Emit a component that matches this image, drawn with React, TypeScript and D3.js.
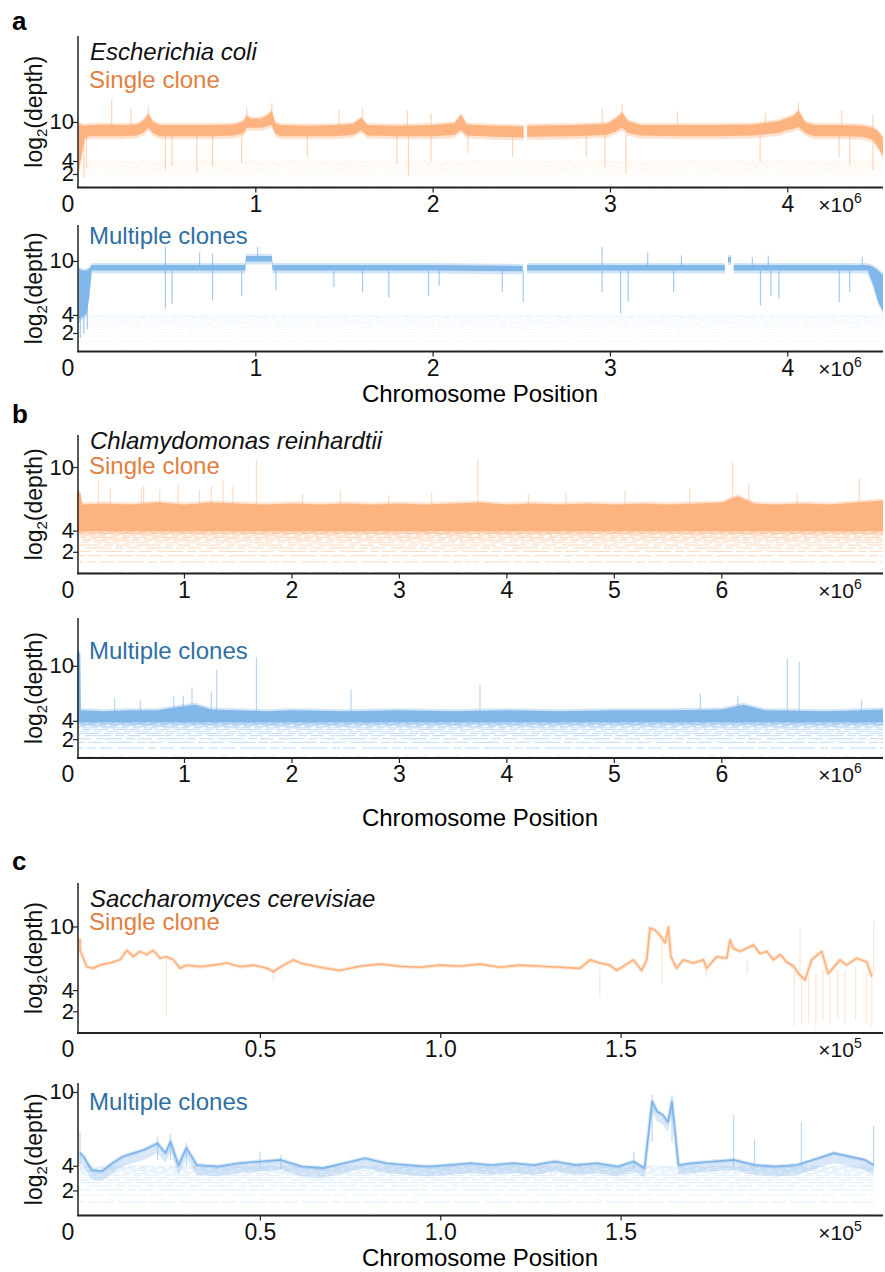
import React from "react";
import * as d3 from "d3";

const FONT = "'Liberation Sans', Arial, Helvetica, sans-serif";
const ORANGE = "#fdb07a";
const ORANGE_TEXT = "#e1803f";
const BLUE = "#7db4e8";
const BLUE_TEXT = "#2f6fa3";
const AXIS_LEFT = 78;
const AXIS_RIGHT = 883;

// tick labels
const ecoliTicks = [0, 1, 2, 3, 4];
const chlamyTicks = [0, 1, 2, 3, 4, 5, 6];
const yeastTicks = [0, 0.5, 1.0, 1.5];
const yTicks = [2, 4, 10];

// discrete low-depth levels (read depth), drawn at log2(depth)
const lowDepths = [1, 2, 3, 4, 5, 6, 7, 8, 9, 10, 11, 12, 13, 14, 15];

// ---- E. coli, single clone: band [pos ×10^6, low, high] in log2(depth)
const ecoliSingleBand = [
  [0.0, 2.5, 9.8], [0.015, 4.5, 9.6], [0.035, 7.6, 9.5], [0.06, 7.9, 9.6],
  [0.15, 7.9, 9.7], [0.25, 7.9, 9.6], [0.33, 8.0, 9.7], [0.37, 8.5, 10.4],
  [0.394, 9.2, 11.3], [0.42, 8.4, 10.1], [0.46, 7.9, 9.6], [0.6, 7.9, 9.6],
  [0.75, 7.9, 9.6], [0.88, 8.0, 9.7], [0.93, 8.4, 10.2], [0.95, 9.2, 11.0],
  [0.97, 9.2, 10.6], [1.03, 9.2, 10.6], [1.07, 9.5, 11.2], [1.09, 9.6, 11.8],
  [1.11, 8.3, 9.9], [1.14, 7.9, 9.6], [1.3, 7.9, 9.5], [1.45, 7.9, 9.6],
  [1.55, 8.1, 9.8], [1.593, 8.8, 10.7], [1.63, 8.0, 9.6], [1.8, 7.9, 9.5],
  [2.0, 7.9, 9.6], [2.12, 8.1, 9.9], [2.157, 8.9, 11.2], [2.19, 8.0, 9.7],
  [2.35, 7.8, 9.5], [2.51, 7.7, 9.4], [2.52, NaN, NaN], [2.53, 7.8, 9.5],
  [2.8, 7.9, 9.6], [2.98, 8.1, 9.8], [3.03, 8.6, 10.6], [3.066, 9.2, 11.5],
  [3.1, 8.4, 10.2], [3.17, 8.0, 9.6], [3.4, 7.9, 9.6], [3.6, 7.9, 9.6],
  [3.8, 8.0, 9.7], [3.95, 8.4, 10.2], [3.99, 8.8, 10.6], [4.03, 9.0, 11.0],
  [4.06, 9.3, 11.8], [4.1, 8.4, 10.0], [4.15, 7.9, 9.6], [4.3, 7.9, 9.6],
  [4.42, 7.8, 9.5], [4.48, 7.4, 9.2], [4.51, 6.2, 8.6], [4.537, 4.8, 7.6],
];
// thin vertical excursions [pos, low, high]
const ecoliSingleSpikes = [
  [0.49, 2.7, 8.2], [0.528, 3.2, 8.2], [0.667, 2.4, 8.2], [0.756, 3.2, 8.2],
  [0.92, 3.7, 8.2], [1.291, 4.7, 8.2], [1.795, 3.7, 8.2], [1.861, 1.7, 8.2],
  [1.988, 4.0, 8.2], [2.196, 5.3, 8.2], [2.448, 4.7, 8.2], [2.864, 4.7, 8.2],
  [2.968, 3.2, 8.2], [3.087, 2.2, 8.2], [3.844, 4.0, 8.2], [4.289, 4.7, 8.2],
  [4.349, 3.5, 8.2], [4.48, 2.7, 8.2], [0.03, 1.5, 8.0], [0.045, 3.0, 8.0],
  [0.187, 9.4, 13.6], [0.296, 9.4, 12.2], [0.394, 10.5, 12.4], [0.949, 10.0, 12.4],
  [1.09, 11.0, 13.0], [1.469, 9.4, 11.9], [1.602, 10.0, 12.2], [1.855, 9.4, 11.9],
  [1.988, 9.4, 11.4], [2.953, 9.4, 12.2], [3.066, 11.0, 12.8], [3.378, 9.4, 11.7],
  [3.874, 9.4, 11.4], [4.06, 11.0, 13.2], [4.304, 9.4, 11.9], [4.48, 9.2, 11.2],
];

// ---- E. coli, multiple clones
const ecoliMultiBand = [
  [0.0, 3.5, 9.3], [0.02, 3.8, 9.0], [0.045, 4.2, 9.0], [0.06, 6.0, 9.2],
  [0.075, 9.0, 9.6], [0.3, 9.0, 9.6], [0.6, 9.0, 9.6], [0.94, 9.0, 9.6],
  [0.945, 10.0, 10.6], [1.09, 10.0, 10.6], [1.095, 9.0, 9.6], [1.5, 9.0, 9.6],
  [2.0, 9.0, 9.6], [2.505, 8.9, 9.5], [2.515, NaN, NaN], [2.53, 9.0, 9.6],
  [3.0, 9.0, 9.6], [3.645, 9.0, 9.6], [3.655, NaN, NaN], [3.663, 9.9, 10.5],
  [3.68, 9.9, 10.5], [3.685, NaN, NaN], [3.695, 9.0, 9.6], [4.0, 9.0, 9.6],
  [4.45, 9.0, 9.6], [4.48, 7.5, 9.4], [4.51, 5.5, 9.0], [4.537, 4.5, 8.5],
];
const ecoliMultiSpikes = [
  [0.49, 4.74, 9.0], [0.528, 5.3, 9.0], [0.756, 5.67, 9.0], [0.92, 6.2, 9.0],
  [1.113, 6.8, 9.0], [1.44, 7.15, 9.0], [1.602, 6.6, 9.0], [1.75, 6.0, 9.0],
  [1.974, 6.2, 9.0], [2.034, 7.3, 9.0], [2.39, 6.6, 9.0], [2.508, 5.5, 9.0],
  [2.953, 6.6, 9.0], [3.057, 4.2, 9.0], [3.1, 5.5, 9.0], [3.356, 6.6, 9.0],
  [3.846, 5.1, 9.0], [3.905, 6.2, 9.0], [3.95, 5.85, 9.0], [4.29, 5.5, 9.0],
  [4.349, 6.6, 9.0], [0.01, 1.5, 8.0], [0.03, 2.0, 8.0], [0.05, 2.5, 8.0],
  [0.49, 9.6, 11.6], [0.683, 9.6, 11.0], [0.756, 9.6, 10.85], [1.01, 10.6, 11.6],
  [2.953, 9.6, 11.6], [3.21, 9.6, 11.0], [3.4, 9.6, 10.67], [3.8, 9.6, 10.48],
  [3.89, 9.6, 10.67], [4.42, 9.6, 10.48],
];

// ---- Chlamydomonas, single clone
const chlamySingleBand = [
  [0.0, 4.0, 7.8], [0.03, 4.0, 7.6], [0.05, 4.0, 6.5], [0.25, 4.0, 6.6],
  [0.5, 4.0, 6.5], [0.75, 4.0, 6.7], [1.0, 4.0, 6.5], [1.25, 4.0, 6.7],
  [1.5, 4.0, 6.6], [1.75, 4.0, 6.5], [2.0, 4.0, 6.6], [2.25, 4.0, 6.5],
  [2.5, 4.0, 6.6], [2.75, 4.0, 6.5], [3.0, 4.0, 6.6], [3.25, 4.0, 6.5],
  [3.5, 4.0, 6.6], [3.75, 4.0, 6.7], [4.0, 4.0, 6.5], [4.25, 4.0, 6.6],
  [4.5, 4.0, 6.5], [4.75, 4.0, 6.6], [5.0, 4.0, 6.5], [5.25, 4.0, 6.6],
  [5.5, 4.0, 6.5], [5.75, 4.0, 6.6], [6.0, 4.0, 6.7], [6.15, 4.0, 7.3],
  [6.3, 4.0, 6.6], [6.5, 4.0, 6.5], [6.75, 4.0, 6.6], [7.0, 4.0, 6.5],
  [7.25, 4.0, 6.7], [7.5, 4.0, 6.9],
];
const chlamySingleSpikes = [
  [0.2, 6.4, 8.8], [0.31, 6.4, 8.1], [0.6, 6.4, 8.0], [0.62, 6.4, 8.2],
  [0.77, 6.4, 7.9], [0.94, 6.4, 8.4], [1.14, 6.4, 7.9], [1.25, 6.4, 8.2],
  [1.36, 6.4, 8.8], [1.45, 6.4, 8.2], [1.67, 6.4, 10.7], [2.1, 6.4, 7.5],
  [2.45, 6.4, 7.9], [2.9, 6.4, 7.4], [3.3, 6.4, 7.6], [3.73, 6.4, 10.8],
  [4.2, 6.4, 7.5], [4.55, 6.4, 7.6], [5.1, 6.4, 7.8], [5.7, 6.4, 8.0],
  [6.1, 6.4, 10.5], [6.25, 6.4, 8.5], [6.7, 6.4, 7.6], [7.28, 6.4, 9.0],
];

// ---- Chlamydomonas, multiple clones
const chlamyMultiBand = [
  [0.0, 4.0, 11.6], [0.03, 4.0, 11.4], [0.035, 3.9, 5.2], [0.25, 3.9, 5.1],
  [0.5, 3.9, 5.2], [0.75, 3.9, 5.2], [0.95, 3.9, 5.6], [1.1, 3.9, 5.8],
  [1.25, 3.9, 5.3], [1.5, 3.9, 5.2], [1.75, 3.9, 5.1], [2.0, 3.9, 5.2],
  [2.5, 3.9, 5.1], [3.0, 3.9, 5.2], [3.5, 3.9, 5.1], [4.0, 3.9, 5.2],
  [4.5, 3.9, 5.1], [5.0, 3.9, 5.2], [5.5, 3.9, 5.2], [6.0, 3.9, 5.3],
  [6.2, 3.9, 5.8], [6.4, 3.9, 5.2], [7.0, 3.9, 5.1], [7.5, 3.9, 5.3],
];
const chlamyMultiSpikes = [
  [0.35, 5.0, 6.5], [0.59, 5.0, 6.3], [0.9, 5.0, 6.7], [0.99, 5.0, 6.8],
  [1.07, 5.0, 7.7], [1.25, 5.0, 7.2], [1.3, 5.0, 9.6], [1.67, 5.0, 11.0],
  [2.55, 5.0, 7.5], [3.75, 5.0, 8.0], [5.8, 5.0, 7.0], [6.15, 5.0, 6.8],
  [6.61, 5.0, 10.8], [6.72, 5.0, 10.5], [7.3, 5.0, 6.3],
];

// ---- S. cerevisiae, single clone: trace [pos ×10^5, log2(depth)]
const yeastSingleTrace = [
  [0.0, 8.9], [0.0, 7.8], [0.019, 6.25], [0.036, 6.1], [0.055, 6.4], [0.083, 6.6],
  [0.111, 6.9], [0.13, 7.8], [0.148, 7.2], [0.166, 7.7], [0.185, 7.4], [0.203, 7.8],
  [0.222, 7.05], [0.24, 7.2], [0.259, 6.9], [0.277, 6.1], [0.296, 6.4], [0.333, 6.25],
  [0.37, 6.4], [0.407, 6.6], [0.444, 6.25], [0.481, 6.4], [0.518, 6.1], [0.536, 5.8],
  [0.564, 6.4], [0.592, 6.9], [0.61, 6.6], [0.665, 6.2], [0.72, 5.9], [0.776, 6.3],
  [0.831, 6.5], [0.887, 6.3], [0.942, 6.2], [0.998, 6.4], [1.053, 6.3], [1.109, 6.5],
  [1.164, 6.2], [1.22, 6.4], [1.275, 6.3], [1.331, 6.2], [1.386, 6.1], [1.414, 6.9],
  [1.441, 6.6], [1.469, 6.4], [1.487, 5.9], [1.506, 6.3], [1.534, 6.9], [1.557, 5.9],
  [1.571, 6.9], [1.58, 9.9], [1.594, 9.7], [1.608, 9.2], [1.622, 8.5], [1.631, 10.0],
  [1.638, 7.2], [1.654, 6.1], [1.672, 6.9], [1.7, 6.6], [1.728, 6.9], [1.737, 6.1],
  [1.765, 7.2], [1.793, 7.05], [1.802, 8.8], [1.811, 8.0], [1.83, 7.7], [1.848, 8.0],
  [1.867, 8.3], [1.885, 7.5], [1.904, 7.7], [1.922, 6.9], [1.941, 7.4], [1.959, 6.7],
  [1.978, 6.3], [1.992, 5.6], [2.01, 5.0], [2.028, 6.9], [2.056, 7.7], [2.074, 5.6],
  [2.107, 6.9], [2.125, 6.4], [2.153, 7.05], [2.181, 6.7], [2.195, 5.3],
];
const yeastSingleSpikes = [
  [0.24, 1.6, 7.0], [0.536, 4.9, 6.0], [1.441, 3.4, 6.0], [1.614, 4.7, 8.6],
  [1.737, 5.3, 6.2], [1.85, 5.6, 7.0], [1.996, 5.0, 9.9], [2.2, 5.5, 10.5],
  [1.98, 0.6, 5.8], [2.0, 0.8, 5.2], [2.02, 1.0, 5.4], [2.04, 0.6, 5.6],
  [2.06, 1.2, 6.0], [2.08, 0.8, 5.4], [2.1, 1.4, 6.0], [2.12, 1.0, 5.8],
  [2.15, 1.2, 6.2], [2.18, 0.8, 5.6], [2.195, 0.6, 5.3],
];

// ---- S. cerevisiae, multiple clones
const yeastMultiTrace = [
  [0.0, 5.1], [0.01, 4.8], [0.032, 3.7], [0.061, 3.6], [0.09, 4.25], [0.119, 4.8],
  [0.149, 5.07], [0.178, 5.34], [0.215, 5.88], [0.237, 5.07], [0.251, 6.0], [0.273, 4.1],
  [0.295, 5.5], [0.324, 4.1], [0.382, 3.98], [0.44, 4.25], [0.499, 4.39], [0.557, 4.52],
  [0.615, 3.98], [0.674, 3.85], [0.732, 4.25], [0.79, 4.66], [0.849, 4.25], [0.907, 4.1],
  [0.965, 3.98], [1.024, 4.1], [1.083, 4.25], [1.141, 4.1], [1.2, 4.25], [1.258, 4.1],
  [1.316, 4.39], [1.375, 4.1], [1.433, 4.25], [1.49, 3.98], [1.535, 4.39], [1.565, 3.85],
  [1.586, 9.27], [1.6, 8.45], [1.615, 8.2], [1.63, 7.6], [1.641, 9.27], [1.649, 6.96],
  [1.659, 4.1], [1.696, 4.25], [1.754, 4.39], [1.812, 4.52], [1.87, 4.1], [1.929, 3.98],
  [1.987, 4.1], [2.046, 4.66], [2.09, 5.07], [2.133, 4.8], [2.176, 4.52], [2.2, 4.1],
];
const yeastMultiSpikes = [
  [0.0, 4.0, 6.8], [0.215, 4.5, 6.4], [0.251, 4.5, 6.6], [0.295, 4.0, 5.9],
  [0.499, 3.8, 5.2], [0.557, 3.8, 4.9], [1.535, 3.8, 5.2], [1.586, 6.0, 9.8],
  [1.641, 6.0, 9.8], [1.812, 4.0, 8.2], [1.87, 4.0, 6.2], [2.0, 4.0, 7.6],
  [2.2, 4.0, 7.3],
];

type Row = number[];

interface PanelProps {
  top: number;
  axisY: number;
  yMax: number;
  x0: number;
  xMax: number;
  dataEnd: number;
  ticks: number[];
  tickFmt: (v: number) => string;
  exponent: string;
  color: string;
  textColor: string;
  cloneLabel: string;
  cloneBaseline: number;
  species?: string;
  speciesBaseline?: number;
  band?: Row[];
  trace?: Row[];
  traceDepth?: number;
  spikes: Row[];
  levelOpacity: number;
  spikeOpacity: number;
}

function Panel(p: PanelProps) {
  const x = d3.scaleLinear().domain([0, p.xMax]).range([p.x0, AXIS_RIGHT]);
  const y = d3.scaleLinear().domain([0, p.yMax]).range([p.axisY, p.top]);
  const band = d3
    .area<Row>()
    .defined((d) => !isNaN(d[1]))
    .x((d) => x(d[0]))
    .y0((d) => y(d[1]))
    .y1((d) => y(d[2]));
  // soft outer fringe of the dense band
  const fringe = d3
    .area<Row>()
    .defined((d) => !isNaN(d[1]))
    .x((d) => x(d[0]))
    .y0((d) => y(d[1]) + 3)
    .y1((d) => y(d[2]) - 2);
  const line = d3
    .line<Row>()
    .x((d) => x(d[0]))
    .y((d) => y(d[1]));
  const under = d3
    .area<Row>()
    .x((d) => x(d[0]))
    .y0((d) => y(d[1] - (p.traceDepth || 0)))
    .y1((d) => y(d[1]));
  const xStart = Math.max(x(0), AXIS_LEFT + 1);
  const xEnd = x(p.dataEnd);

  return (
    <g>
      {lowDepths.map((k) => (
        <line
          key={"l" + k}
          x1={xStart}
          x2={xEnd}
          y1={y(Math.log2(k)) - 1}
          y2={y(Math.log2(k)) - 1}
          stroke={p.color}
          strokeWidth={1.2}
          strokeDasharray="26 4 9 3 14 5"
          strokeDashoffset={k * 11}
          strokeOpacity={p.levelOpacity}
        />
      ))}
      {p.band && <path d={fringe(p.band) || ""} fill={p.color} fillOpacity={0.35} />}
      {p.band && <path d={band(p.band) || ""} fill={p.color} fillOpacity={0.95} />}
      {p.spikes.map((s, i) => (
        <line
          key={"s" + i}
          x1={x(s[0])}
          x2={x(s[0])}
          y1={y(s[1])}
          y2={y(s[2])}
          stroke={p.color}
          strokeWidth={1.2}
          strokeOpacity={p.spikeOpacity}
        />
      ))}
      {p.trace && p.traceDepth && (
        <path d={under(p.trace) || ""} fill={p.color} fillOpacity={0.3} />
      )}
      {p.trace && (
        <path
          d={line(p.trace) || ""}
          fill="none"
          stroke={p.color}
          strokeWidth={4}
          strokeOpacity={0.3}
          strokeLinejoin="round"
        />
      )}
      {p.trace && (
        <path
          d={line(p.trace) || ""}
          fill="none"
          stroke={p.color}
          strokeWidth={1.6}
          strokeLinejoin="round"
        />
      )}

      {/* axes */}
      <line x1={AXIS_LEFT} x2={AXIS_LEFT} y1={p.top} y2={p.axisY} stroke="#222" strokeWidth={1.5} />
      <line x1={AXIS_LEFT - 1} x2={AXIS_RIGHT} y1={p.axisY} y2={p.axisY} stroke="#222" strokeWidth={1.8} />
      {yTicks.map((t) => (
        <g key={"yt" + t}>
          <line x1={AXIS_LEFT - 5} x2={AXIS_LEFT} y1={y(t)} y2={y(t)} stroke="#222" strokeWidth={1.2} />
          <text x={AXIS_LEFT - 4} y={y(t) + 7} textAnchor="end" fontSize={22} fontFamily={FONT} fill="#111">
            {t}
          </text>
        </g>
      ))}
      {p.ticks.map((t) => (
        <g key={"xt" + t}>
          {t > 0 && (
            <line x1={x(t)} x2={x(t)} y1={p.axisY} y2={p.axisY + 5} stroke="#222" strokeWidth={1.2} />
          )}
          <text
            x={t === 0 ? 68 : x(t)}
            y={p.axisY + 24}
            textAnchor="middle"
            fontSize={23}
            fontFamily={FONT}
            fill="#111"
          >
            {p.tickFmt(t)}
          </text>
        </g>
      ))}
      <text x={840} y={p.axisY + 24} textAnchor="middle" fontSize={21} fontFamily={FONT} fill="#111">
        ×10
        <tspan fontSize={14} dy={-9}>
          {p.exponent}
        </tspan>
      </text>
      <text
        transform={`translate(42,${(p.top + p.axisY) / 2}) rotate(-90)`}
        textAnchor="middle"
        fontSize={23}
        fontFamily={FONT}
        fill="#111"
      >
        log
        <tspan fontSize={15} dy={5}>
          2
        </tspan>
        <tspan dy={-5}>(depth)</tspan>
      </text>

      {p.species && (
        <text x={90} y={p.speciesBaseline} fontSize={24} fontStyle="italic" fontFamily={FONT} fill="#111">
          {p.species}
        </text>
      )}
      <text x={89} y={p.cloneBaseline} fontSize={24} fontFamily={FONT} fill={p.textColor}>
        {p.cloneLabel}
      </text>
    </g>
  );
}

const intFmt = (v: number) => String(v);
const decFmt = (v: number) => (v === 0 ? "0" : v.toFixed(1));

export default function App() {
  return (
    <svg width={885} height={1272} style={{ position: "absolute", left: 0, top: 0, background: "#fff" }}>
      <rect width={885} height={1272} fill="#fff" />
      <text x={12} y={30} fontSize={26} fontWeight="bold" fontFamily={FONT}>a</text>
      <Panel
        top={36} axisY={187.5} yMax={23.3} x0={78.5} xMax={4.537} dataEnd={4.537}
        ticks={ecoliTicks} tickFmt={intFmt} exponent="6"
        color={ORANGE} textColor={ORANGE_TEXT}
        species="Escherichia coli" speciesBaseline={60}
        cloneLabel="Single clone" cloneBaseline={88}
        band={ecoliSingleBand} spikes={ecoliSingleSpikes}
        levelOpacity={0.07} spikeOpacity={0.5}
      />
      <Panel
        top={225} axisY={351.5} yMax={14.05} x0={78.5} xMax={4.537} dataEnd={4.537}
        ticks={ecoliTicks} tickFmt={intFmt} exponent="6"
        color={BLUE} textColor={BLUE_TEXT}
        cloneLabel="Multiple clones" cloneBaseline={244}
        band={ecoliMultiBand} spikes={ecoliMultiSpikes}
        levelOpacity={0.07} spikeOpacity={0.7}
      />
      <text x={480} y={402} textAnchor="middle" fontSize={24} fontFamily={FONT}>Chromosome Position</text>

      <text x={12} y={423} fontSize={26} fontWeight="bold" fontFamily={FONT}>b</text>
      <Panel
        top={435} axisY={573.5} yMax={13.07} x0={77} xMax={7.5} dataEnd={7.5}
        ticks={chlamyTicks} tickFmt={intFmt} exponent="6"
        color={ORANGE} textColor={ORANGE_TEXT}
        species="Chlamydomonas reinhardtii" speciesBaseline={449}
        cloneLabel="Single clone" cloneBaseline={474}
        band={chlamySingleBand} spikes={chlamySingleSpikes}
        levelOpacity={0.4} spikeOpacity={0.45}
      />
      <Panel
        top={618} axisY={758} yMax={15.27} x0={77} xMax={7.5} dataEnd={7.5}
        ticks={chlamyTicks} tickFmt={intFmt} exponent="6"
        color={BLUE} textColor={BLUE_TEXT}
        cloneLabel="Multiple clones" cloneBaseline={659}
        band={chlamyMultiBand} spikes={chlamyMultiSpikes}
        levelOpacity={0.4} spikeOpacity={0.55}
      />
      <text x={480} y={826} textAnchor="middle" fontSize={24} fontFamily={FONT}>Chromosome Position</text>

      <text x={12} y={870} fontSize={26} fontWeight="bold" fontFamily={FONT}>c</text>
      <Panel
        top={883} axisY={1033} yMax={14.15} x0={80} xMax={2.226} dataEnd={2.2}
        ticks={yeastTicks} tickFmt={decFmt} exponent="5"
        color={ORANGE} textColor={ORANGE_TEXT}
        species="Saccharomyces cerevisiae" speciesBaseline={907}
        cloneLabel="Single clone" cloneBaseline={930}
        trace={yeastSingleTrace} spikes={yeastSingleSpikes}
        levelOpacity={0} spikeOpacity={0.3}
      />
      <Panel
        top={1083} axisY={1215.5} yMax={10.77} x0={80} xMax={2.226} dataEnd={2.2}
        ticks={yeastTicks} tickFmt={decFmt} exponent="5"
        color={BLUE} textColor={BLUE_TEXT}
        cloneLabel="Multiple clones" cloneBaseline={1110}
        trace={yeastMultiTrace} traceDepth={0.8} spikes={yeastMultiSpikes}
        levelOpacity={0.2} spikeOpacity={0.5}
      />
      <text x={480} y={1266} textAnchor="middle" fontSize={24} fontFamily={FONT}>Chromosome Position</text>
    </svg>
  );
}
